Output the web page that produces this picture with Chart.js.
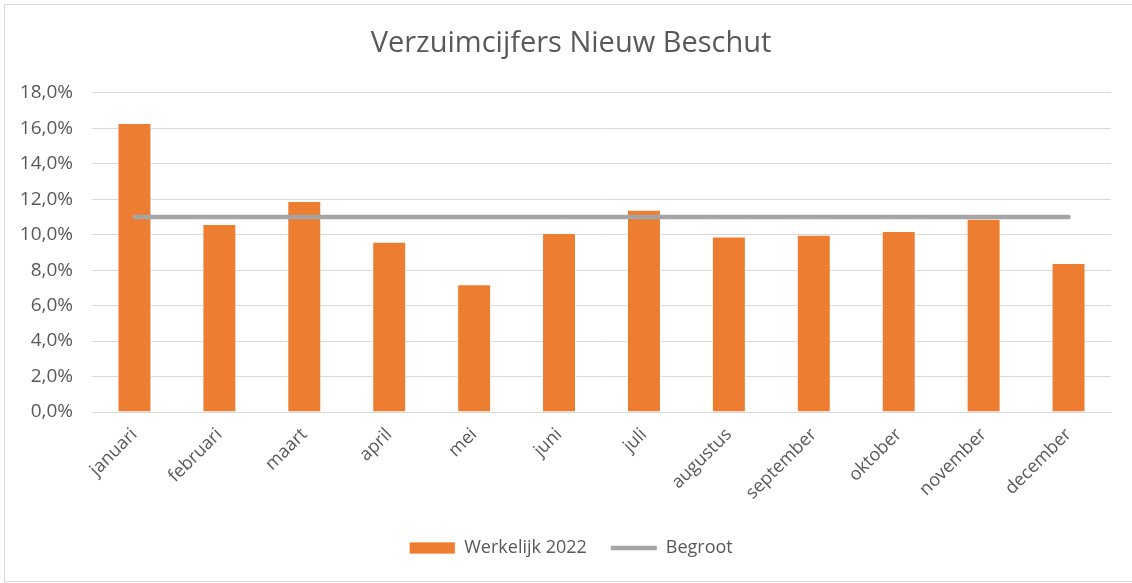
<!DOCTYPE html>
<html lang="nl">
<head>
    <meta charset="UTF-8">
    <title>Verzuimcijfers Nieuw Beschut</title>
    <script src="https://cdn.jsdelivr.net/npm/chart.js"></script>
    <style>
        body { margin: 0; background: #fff; }
        canvas { display: block; }
    </style>
</head>
<body>
    <canvas id="chart" width="1132" height="583"></canvas>

    <script>
        // data
        var maanden = ["januari", "februari", "maart", "april", "mei", "juni", "juli", "augustus", "september", "oktober", "november", "december"];
        var werkelijk2022 = [16.3, 10.6, 11.9, 9.6, 7.2, 10.1, 11.4, 9.9, 10.0, 10.2, 10.9, 8.4];
        var begroot = [11.0, 11.0, 11.0, 11.0, 11.0, 11.0, 11.0, 11.0, 11.0, 11.0, 11.0, 11.0];
        var yMax = 18;
        var yStep = 2;

        var textColor = "#595959";
        var fontFamily = "'Open Sans', sans-serif";

        // light grey frame round the whole chart
        var framePlugin = {
            id: "frame",
            beforeDraw: function(chart) {
                var ctx = chart.ctx;
                ctx.save();
                ctx.fillStyle = "#fff";
                ctx.fillRect(0, 0, chart.width, chart.height);
                ctx.strokeStyle = "#D9D9D9";
                ctx.lineWidth = 1;
                ctx.strokeRect(4.5, 4.5, chart.width, chart.height - 6);
                ctx.restore();
            }
        };

        new Chart(document.getElementById("chart"), {
            data: {
                labels: maanden,
                datasets: [{
                    type: "bar",
                    label: "Werkelijk 2022",
                    data: werkelijk2022,
                    backgroundColor: "#ED7D31",
                    borderColor: "rgba(255,255,255,0.7)",
                    borderWidth: 1,
                    categoryPercentage: 1,
                    barPercentage: 0.4,
                    pointStyle: "rect",
                    order: 2
                }, {
                    type: "line",
                    label: "Begroot",
                    data: begroot,
                    borderColor: "#A5A5A5",
                    backgroundColor: "#A5A5A5",
                    borderWidth: 4.5,
                    borderCapStyle: "round",
                    pointRadius: 0,
                    pointStyle: "line",
                    order: 1
                }]
            },
            options: {
                responsive: false,
                animation: false,
                devicePixelRatio: 1,
                layout: { padding: { left: 10, right: 0, top: 0, bottom: 16 } },
                plugins: {
                    title: {
                        display: true,
                        text: "Verzuimcijfers Nieuw Beschut",
                        color: textColor,
                        font: { family: fontFamily, size: 29, weight: "normal" },
                        padding: { top: 26, bottom: 32 }
                    },
                    legend: {
                        position: "bottom",
                        labels: {
                            usePointStyle: true,
                            pointStyleWidth: 46,
                            boxHeight: 12,
                            color: textColor,
                            font: { family: fontFamily, size: 18 },
                            padding: 24,
                            sort: function(a, b) { return a.datasetIndex - b.datasetIndex; }
                        }
                    },
                    tooltip: { enabled: false }
                },
                scales: {
                    x: {
                        grid: { display: false },
                        border: { color: "#D9D9D9" },
                        ticks: {
                            color: textColor,
                            font: { family: fontFamily, size: 18 },
                            maxRotation: 45,
                            minRotation: 45,
                            autoSkip: false,
                            padding: 4
                        },
                        afterFit: function(scale) { scale.height = 103; }
                    },
                    y: {
                        min: 0,
                        max: yMax,
                        border: { display: false },
                        grid: { color: "#D9D9D9", drawTicks: false },
                        ticks: {
                            stepSize: yStep,
                            color: textColor,
                            font: { family: fontFamily, size: 19 },
                            padding: 19,
                            callback: function(v) { return v.toFixed(1).replace(".", ",") + "%"; }
                        },
                        afterFit: function(scale) { scale.width = 82; }
                    },
                    // empty spacer on the right so the plot ends where the reference does
                    spacer: {
                        type: "linear",
                        position: "right",
                        grid: { display: false },
                        border: { display: false },
                        ticks: { display: false },
                        afterFit: function(scale) { scale.width = 21; }
                    }
                }
            },
            plugins: [framePlugin]
        });
    </script>
</body>
</html>
